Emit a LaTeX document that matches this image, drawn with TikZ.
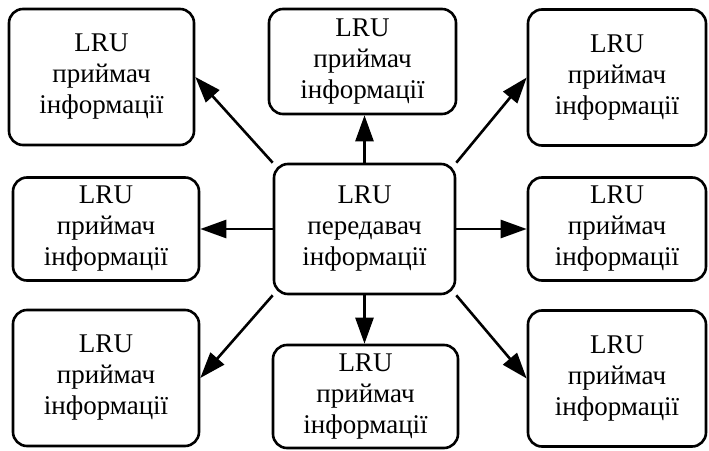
\documentclass[tikz,border=0pt]{standalone}
\usepackage{fontspec}
\setmainfont{Liberation Serif}
\usetikzlibrary{arrows.meta}
\tikzset{
  unit/.style={draw, line width=2.6pt, rounded corners=14pt, align=center,
    inner sep=0pt, font=\fontsize{27}{31}\selectfont},
  tall/.style={minimum height=136pt},
  short/.style={minimum height=103pt},
  link/.style={line width=2.6pt, -{Triangle[length=26pt,width=18pt]}}
}
\begin{document}
\begin{tikzpicture}[node distance=255pt]
  \useasboundingbox (-364.5pt,229pt) rectangle (344.5pt,-221pt);
  \node (tx) [unit, minimum width=181pt, minimum height=130pt] {LRU\\передавач\\інформації};
  \node (rxw) [unit, short, minimum width=186pt, left of=tx, node distance=258.5pt] {LRU\\приймач\\інформації};
  \node (rxe) [unit, short, minimum width=178pt, right of=tx, node distance=252.5pt] {LRU\\приймач\\інформації};
  \node (rxn) [unit, minimum width=187pt, minimum height=105pt, above of=tx, node distance=167.5pt, xshift=-2pt] {LRU\\приймач\\інформації};
  \node (rxs) [unit, short, minimum width=185pt, below of=tx, node distance=167.5pt, xshift=1pt] {LRU\\приймач\\інформації};
  \node (rxnw) [unit, tall, minimum width=185pt, above of=rxw, node distance=152pt, xshift=-4.5pt] {LRU\\приймач\\інформації};
  \node (rxsw) [unit, tall, minimum width=186pt, below of=rxw, node distance=149pt] {LRU\\приймач\\інформації};
  \node (rxne) [unit, tall, minimum width=178pt, above of=rxe, node distance=151.5pt] {LRU\\приймач\\інформації};
  \node (rxse) [unit, tall, minimum width=178pt, below of=rxe, node distance=149.5pt] {LRU\\приймач\\інформації};
  \draw[link] (tx.north) -- (tx.north |- rxn.south);
  \draw[link] (tx.south) -- (tx.south |- rxs.north);
  \draw[link] (tx.west) -- (rxw.east);
  \draw[link] (tx.east) -- (rxe.west);
  \draw[link] (tx.north west) -- (rxnw.east);
  \draw[link] (tx.south west) -- (rxsw.east);
  \draw[link] (tx.north east) -- (rxne.west);
  \draw[link] (tx.south east) -- (rxse.west);
\end{tikzpicture}
\end{document}
